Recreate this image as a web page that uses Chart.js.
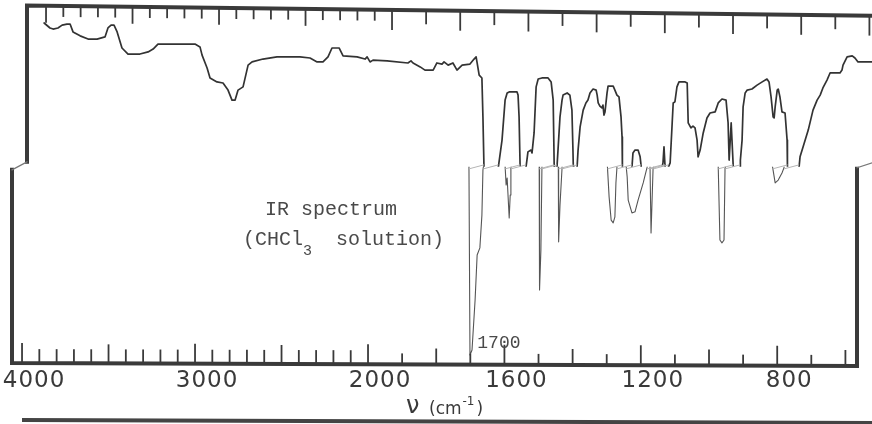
<!DOCTYPE html>
<html>
<head>
<meta charset="utf-8">
<title>IR spectrum</title>
<script src="https://cdn.jsdelivr.net/npm/chart.js@4.4.1/dist/chart.umd.min.js"></script>
<style>
    html, body { margin: 0; padding: 0; background: #fff; }
    canvas { display: block; }
</style>
</head>
<body>
<canvas id="irChart" width="872" height="424"></canvas>
<script>
// trace, left to right (cm-1, %T)
var wavenumbers = [
    3959, 3925, 3907, 3879, 3855, 3827, 3809, 3792, 3751, 3705,
    3653, 3607, 3590, 3572, 3555, 3537, 3509, 3474, 3405, 3358,
    3329, 3301, 3087, 3058, 3046, 3017, 3000, 2960, 2925, 2896,
    2873, 2855, 2838, 2809, 2780, 2757, 2694, 2613, 2480, 2422,
    2381, 2347, 2318, 2295, 2254, 2231, 2150, 2104, 2092, 2075,
    2058, 1988, 1927, 1918, 1912, 1891, 1877, 1853, 1842, 1827,
    1821, 1809, 1795, 1783, 1768, 1745, 1733, 1727, 1724, 1718,
    1710, 1707, 1704, 1701, 1695, 1686, 1680, 1672, 1666, 1663,
    1651, 1642, 1636, 1630, 1607, 1604, 1601, 1598, 1595, 1592,
    1586, 1583, 1581, 1578, 1575, 1566, 1563, 1557, 1551, 1545,
    1534, 1516, 1507, 1501, 1498, 1497, 1493, 1490, 1481, 1475,
    1472, 1460, 1452, 1446, 1443, 1442, 1441, 1437, 1431, 1428,
    1422, 1413, 1405, 1399, 1393, 1384, 1375, 1372, 1369, 1364,
    1358, 1355, 1352, 1349, 1343, 1340, 1325, 1320, 1314, 1308,
    1302, 1299, 1298, 1293, 1287, 1281, 1276, 1273, 1270, 1267,
    1261, 1252, 1246, 1243, 1240, 1237, 1226, 1217, 1208, 1193,
    1182, 1179, 1176, 1173, 1170, 1164, 1158, 1152, 1149, 1144,
    1138, 1132, 1114, 1108, 1105, 1097, 1091, 1085, 1079, 1076,
    1070, 1061, 1050, 1041, 1026, 1017, 1006, 994, 988, 985,
    979, 973, 968, 962, 956, 953, 952, 947, 944, 938,
    932, 918, 903, 888, 874, 868, 862, 856, 853, 850,
    844, 841, 836, 830, 821, 815, 814, 806, 797, 786,
    780, 777, 768, 753, 739, 727, 718, 710, 698, 689,
    674, 660, 654, 651, 639, 624, 616, 607, 592, 566
];
var transmittance = [
    95.8, 94.4, 94.1, 94.4, 95.2, 95.5, 95.5, 93.3, 92.2, 91.3,
    91.3, 91.9, 94.4, 95.2, 95.2, 93.3, 88.8, 87.1, 87.1, 87.7,
    88.5, 89.9, 89.9, 89.1, 86.8, 83.2, 80.4, 79.3, 79.0, 77.0,
    74.2, 74.2, 77.0, 77.9, 84.0, 84.9, 85.7, 86.3, 86.3, 86.0,
    84.9, 84.9, 86.3, 88.8, 88.8, 86.6, 86.3, 85.7, 86.3, 84.9,
    85.4, 85.2, 84.6, 85.2, 84.6, 83.5, 82.6, 82.6, 84.6, 84.3,
    84.9, 84.0, 84.6, 82.6, 84.0, 84.3, 85.7, 86.3, 84.6, 81.2,
    80.4, 69.5, 55.7, 2.8, 4.2, 18.2, 30.8, 32.8, 42.0, 54.6,
    63.0, 74.2, 76.2, 76.5, 76.5, 75.6, 69.5, 55.7, 50.4, 52.4,
    41.2, 47.6, 55.2, 57.4, 59.7, 60.2, 59.4, 65.0, 77.9, 80.1,
    80.4, 80.4, 79.3, 74.2, 55.7, 21.0, 32.2, 55.2, 69.5, 74.2,
    75.6, 76.2, 75.6, 71.4, 60.2, 55.7, 34.5, 44.8, 55.2, 60.2,
    66.7, 71.4, 73.4, 74.2, 76.2, 77.3, 77.0, 75.6, 73.4, 72.5,
    72.0, 72.8, 70.0, 70.9, 76.2, 78.1, 78.1, 77.0, 75.6, 75.1,
    69.5, 63.9, 55.7, 47.1, 40.6, 39.8, 41.5, 51.0, 55.3, 59.4,
    60.2, 60.2, 58.3, 55.7, 52.7, 46.2, 42.6, 42.9, 46.2, 51.0,
    55.2, 56.6, 61.1, 55.7, 37.0, 55.2, 56.6, 67.8, 73.4, 73.7,
    77.9, 79.3, 79.3, 79.0, 67.8, 66.4, 66.9, 66.4, 63.0, 58.3,
    60.2, 65.0, 69.2, 70.6, 70.9, 73.4, 74.5, 74.2, 67.8, 57.4,
    67.8, 55.7, 35.0, 34.2, 35.0, 55.2, 57.4, 63.0, 72.3, 76.2,
    77.0, 77.3, 78.4, 79.3, 80.1, 79.3, 75.1, 69.5, 69.2, 72.3,
    77.0, 77.3, 75.1, 70.9, 70.6, 63.0, 55.7, 51.0, 51.8, 53.8,
    55.3, 58.3, 61.1, 65.8, 71.4, 74.2, 75.6, 77.6, 79.8, 81.8,
    81.8, 81.8, 82.6, 84.0, 86.3, 86.6, 86.0, 84.9, 84.9, 84.9
];

var axisLabels = [4000, 3000, 2000, 1600, 1200, 800];
var markedBand = 1700;
var nuMin = 566, nuMax = 4058;

// the scan is two strips of paper glued together; the upper strip sits a bit to the right
var SEAM_T = 55.5;
var SHIFT = { x: 0, xTop: 15, xRule: 24 };

// IR paper: below 2000 cm-1 the scale is stretched about twice
var BREAK_NU = 2000;
var EXPAND = 0.341 / 0.173;

function irUnits(nu, max) {
    return nu >= BREAK_NU ? max - nu : (max - BREAK_NU) + (BREAK_NU - nu) * EXPAND;
}

class IRScale extends Chart.LinearScale {
    getPixelForValue(value) {
        var total = irUnits(this.min, this.max);
        return this.left + this.width * irUnits(value, this.max) / total + (SHIFT[this.id] || 0);
    }
}
IRScale.id = 'irpaper';
IRScale.defaults = Chart.LinearScale.defaults;
Chart.register(IRScale);

var points = wavenumbers.map(function (nu, i) {
    return { x: nu, y: transmittance[i] };
});

var ink = '#3a3a3a';

var paperPlugin = {
    id: 'paper',
    beforeDatasetDraw: function (chart, args) {
        var ctx = chart.ctx;
        var seamY = chart.scales.y.getPixelForValue(SEAM_T);
        ctx.save();
        ctx.beginPath();
        if (args.index === 0) {
            ctx.rect(0, 0, chart.width, seamY);
        } else {
            ctx.rect(0, seamY, chart.width, chart.height - seamY);
        }
        ctx.clip();
    },
    afterDatasetDraw: function (chart) {
        chart.ctx.restore();
    },
    afterDraw: function (chart) {
        var ctx = chart.ctx;
        var xb = chart.scales.x, xt = chart.scales.xTop, xr = chart.scales.xRule, ys = chart.scales.y;
        var area = chart.chartArea;
        var W = chart.width;
        var seamY = ys.getPixelForValue(SEAM_T);
        var leftLow = xb.getPixelForValue(xb.max);
        var rightLow = xb.getPixelForValue(xb.min);
        var leftUp = xt.getPixelForValue(xt.max);

        function topY(px) { return 5.5 + (px - leftUp) * 0.012; }
        function botY(px) { return area.bottom - 2 + (px - leftLow) * 0.0036; }

        ctx.save();

        // faint seam joints where the trace passes from one strip to the other
        ctx.strokeStyle = '#b5b5b5';
        ctx.lineWidth = 1;
        for (var i = 0; i < wavenumbers.length - 1; i++) {
            var a = transmittance[i], b = transmittance[i + 1];
            if ((a - SEAM_T) * (b - SEAM_T) < 0) {
                var f = (SEAM_T - a) / (b - a);
                var nu = wavenumbers[i] + f * (wavenumbers[i + 1] - wavenumbers[i]);
                ctx.beginPath();
                ctx.moveTo(xt.getPixelForValue(nu), seamY - 2);
                ctx.lineTo(xb.getPixelForValue(nu), seamY + 2);
                ctx.stroke();
            }
        }

        // frame
        ctx.strokeStyle = ink;
        ctx.lineWidth = 4;
        ctx.lineCap = 'square';
        ctx.beginPath();
        ctx.moveTo(W, topY(W));
        ctx.lineTo(leftUp, topY(leftUp));
        ctx.lineTo(leftUp, seamY - 5);
        ctx.stroke();
        ctx.beginPath();
        ctx.moveTo(leftLow, seamY + 3);
        ctx.lineTo(leftLow, botY(leftLow));
        ctx.lineTo(rightLow, botY(rightLow));
        ctx.lineTo(rightLow, seamY + 2);
        ctx.stroke();
        ctx.lineWidth = 1.2;
        ctx.strokeStyle = '#777';
        ctx.beginPath();
        ctx.moveTo(leftUp, seamY - 5);
        ctx.lineTo(leftLow, seamY + 3);
        ctx.moveTo(rightLow, seamY + 1);
        ctx.lineTo(W, seamY - 4);
        ctx.stroke();

        // ruler ticks
        ctx.strokeStyle = ink;
        ctx.lineWidth = 1.8;
        ctx.lineCap = 'butt';
        for (var v = 4000; v >= 600; v -= 100) {
            var px = xb.getPixelForValue(v);
            var len;
            if (axisLabels.indexOf(v) >= 0) len = 18;
            else if (v > BREAK_NU) len = v % 500 === 0 ? 17 : 12;
            else len = v % 200 === 0 ? 14 : 9;
            ctx.beginPath();
            ctx.moveTo(px, botY(px));
            ctx.lineTo(px, botY(px) - 2 - len);
            ctx.stroke();

            var pt = xr.getPixelForValue(v);
            if (pt < W) {
                var lt = v > BREAK_NU ? (v % 500 === 0 ? 15 : 9) : (v % 200 === 0 ? 18 : 12);
                ctx.beginPath();
                ctx.moveTo(pt, topY(pt));
                ctx.lineTo(pt, topY(pt) + 2 + lt);
                ctx.stroke();
            }
        }

        // bottom numbers
        ctx.fillStyle = ink;
        ctx.font = '23px "DejaVu Sans", sans-serif';
        ctx.letterSpacing = '1px';
        ctx.textAlign = 'center';
        ctx.textBaseline = 'middle';
        axisLabels.forEach(function (v) {
            ctx.fillText(String(v), xb.getPixelForValue(v) + 12, area.bottom + 16);
        });
        ctx.letterSpacing = '0px';

        // axis title
        ctx.textAlign = 'left';
        ctx.textBaseline = 'alphabetic';
        ctx.font = '24px "DejaVu Sans", sans-serif';
        ctx.fillText('\u03bd', 406, 413);
        ctx.font = '17px "DejaVu Sans", sans-serif';
        ctx.fillText('(cm', 429, 414);
        var w1 = ctx.measureText('(cm').width;
        ctx.font = '12px "DejaVu Sans", sans-serif';
        ctx.fillText('-1', 429 + w1 + 1, 405);
        var w2 = ctx.measureText('-1').width;
        ctx.font = '17px "DejaVu Sans", sans-serif';
        ctx.fillText(')', 429 + w1 + w2 + 3, 414);

        // next chart's frame peeking in at the bottom of the scan
        ctx.strokeStyle = '#444';
        ctx.lineWidth = 4;
        ctx.beginPath();
        ctx.moveTo(22, 420);
        ctx.lineTo(W, 423);
        ctx.stroke();

        // typed notes
        var mono = '"Liberation Mono", "Courier New", monospace';
        ctx.fillStyle = '#4a4a4a';
        ctx.font = '20px ' + mono;
        ctx.fillText('IR spectrum', 265, 215);
        ctx.fillText('(CHCl', 243, 245);
        var wc = ctx.measureText('(CHCl').width;
        ctx.font = '15px ' + mono;
        ctx.fillText('3', 243 + wc, 255);
        var w3 = ctx.measureText('3').width;
        ctx.font = '20px ' + mono;
        ctx.fillText('  solution)', 243 + wc + w3, 245);

        ctx.font = '18px ' + mono;
        ctx.fillText(String(markedBand), xb.getPixelForValue(markedBand) + 7, 348);

        ctx.restore();
    }
};

var irScale = function () {
    return { type: 'irpaper', axis: 'x', position: 'bottom', min: nuMin, max: nuMax, display: false };
};

var ctx = document.getElementById('irChart').getContext('2d');
var irChart = new Chart(ctx, {
    type: 'line',
    data: {
        datasets: [{
            label: 'upper strip',
            data: points,
            xAxisID: 'xTop',
            borderColor: '#333',
            borderWidth: 1.7,
            clip: false
        }, {
            label: 'lower strip',
            data: points,
            xAxisID: 'x',
            borderColor: '#555',
            borderWidth: 1.1,
            clip: false
        }]
    },
    options: {
        responsive: false,
        animation: false,
        events: [],
        layout: { padding: { left: 12, right: 15, top: 8, bottom: 59 } },
        elements: {
            point: { radius: 0 },
            line: { tension: 0, borderJoinStyle: 'round', borderCapStyle: 'round' }
        },
        plugins: {
            legend: { display: false },
            tooltip: { enabled: false }
        },
        scales: {
            x: irScale(),
            xTop: irScale(),
            xRule: irScale(),
            y: { type: 'linear', min: 0, max: 100, display: false }
        }
    },
    plugins: [paperPlugin]
});
</script>
</body>
</html>
